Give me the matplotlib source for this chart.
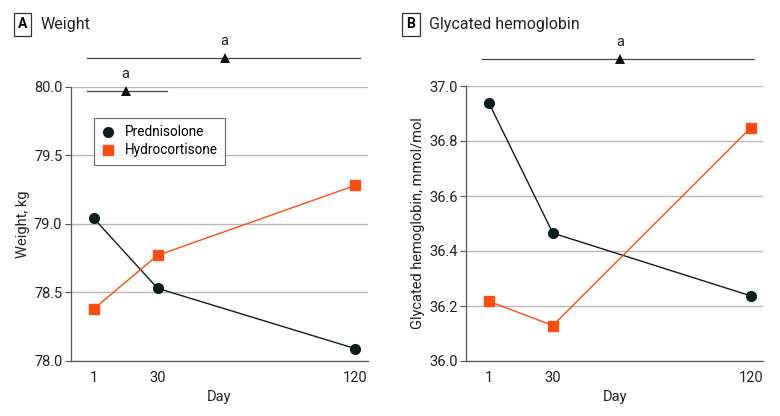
import matplotlib
matplotlib.use("Agg")
import matplotlib.pyplot as plt

plt.rcParams['font.family'] = ['Roboto', 'DejaVu Sans']

days = [1, 30, 120]
day_labels = ["1", "30", "120"]
weight_pred = [79.04, 78.53, 78.09]
weight_hydro = [78.38, 78.77, 79.28]
hba_pred = [36.937, 36.465, 36.237]
hba_hydro = [36.217, 36.129, 36.848]

weight_ticks = [78.0, 78.5, 79.0, 79.5, 80.0]
hba_ticks = [36.0, 36.2, 36.4, 36.6, 36.8, 37.0]

DARK = "#0f1c1e"
ORANGE = "#fc4c12"
GRID = "#b8b8b8"
SPINE = "#555555"

fig = plt.figure(figsize=(7.8, 4.16), dpi=100)
W, H = 780, 416

def add_ax(left, right, top, bottom):
    return fig.add_axes([left / W, 1 - bottom / H, (right - left) / W, (bottom - top) / H])

axA = add_ax(70.7, 367.7, 86.6, 361)
axB = add_ax(466, 763, 86, 361)

def style(ax, ticks, fmt, ylabel):
    ax.set_xlim(-9.5, 125.6)
    ax.set_ylim(ticks[0], ticks[-1])
    ax.set_yticks(ticks)
    ax.set_yticklabels([fmt.format(t) for t in ticks])
    ax.set_xticks(days)
    ax.set_xticklabels(day_labels)
    ax.grid(axis='y', color=GRID, linewidth=1.0)
    ax.set_axisbelow(True)
    for s in ['top', 'right']:
        ax.spines[s].set_visible(False)
    for s in ['left', 'bottom']:
        ax.spines[s].set_color(SPINE)
        ax.spines[s].set_linewidth(0.9)
    ax.tick_params(axis='y', length=4, width=0.8, color=SPINE, labelsize=10.5, pad=2, labelcolor="#222222")
    ax.tick_params(axis='x', length=0, labelsize=10.5, pad=7, labelcolor="#222222")
    ax.set_xlabel("Day", fontsize=10.5, labelpad=4, color="#222222")
    ax.set_ylabel(ylabel, fontsize=10.5, labelpad=3, color="#222222")

style(axA, weight_ticks, "{:.1f}", "Weight, kg")
style(axB, hba_ticks, "{:.1f}", "Glycated hemoglobin, mmol/mol")

for ax, p, h in [(axA, weight_pred, weight_hydro), (axB, hba_pred, hba_hydro)]:
    ax.plot(days, p, color=DARK, lw=1.0, marker='o', ms=7.0, label="Prednisolone", zorder=3)
    ax.plot(days, h, color=ORANGE, lw=1.0, marker='s', ms=6.5, label="Hydrocortisone", zorder=3)

leg = axA.legend(loc='upper left', bbox_to_anchor=(0.078, 0.886), borderaxespad=0,
                 frameon=True, fancybox=False,
                 edgecolor="#444444", fontsize=9.8, handlelength=1.0, handletextpad=0.7,
                 borderpad=0.55, labelspacing=0.3)
leg.get_frame().set_linewidth(0.8)
for line in leg.get_lines():
    line.set_linestyle('')

def sig_bar(ax, x0, x1, y, xm):
    ax.plot([x0, x1], [y, y], color="#444444", lw=0.9, clip_on=False, zorder=4)
    ax.plot([xm], [y], marker='^', color="#111111", ms=6.5, clip_on=False, zorder=5,
            markeredgewidth=0)
    ax.annotate("a", xy=(xm, y), xytext=(0, 7), textcoords='offset points',
                ha='center', va='bottom', fontsize=10.5, annotation_clip=False, color="#222222")

sig_bar(axA, -2, 122, 80.21, 60.5)
sig_bar(axA, -2, 34.2, 79.968, 15.5)
sig_bar(axB, -2, 121.6, 37.1, 60.5)

def panel_label(x, y, letter, title):
    fig.text(x / W, 1 - y / H, letter, fontsize=10, fontweight='bold', ha='center', va='center',
             bbox=dict(boxstyle='square,pad=0.3', facecolor='white', edgecolor='#333333', linewidth=0.9))
    fig.text((x + 18) / W, 1 - y / H, title, fontsize=11.5, ha='left', va='center', color="#222222")

panel_label(22.5, 24.5, "A", "Weight")
panel_label(411, 24.5, "B", "Glycated hemoglobin")

fig.savefig("out.png", dpi=100)
